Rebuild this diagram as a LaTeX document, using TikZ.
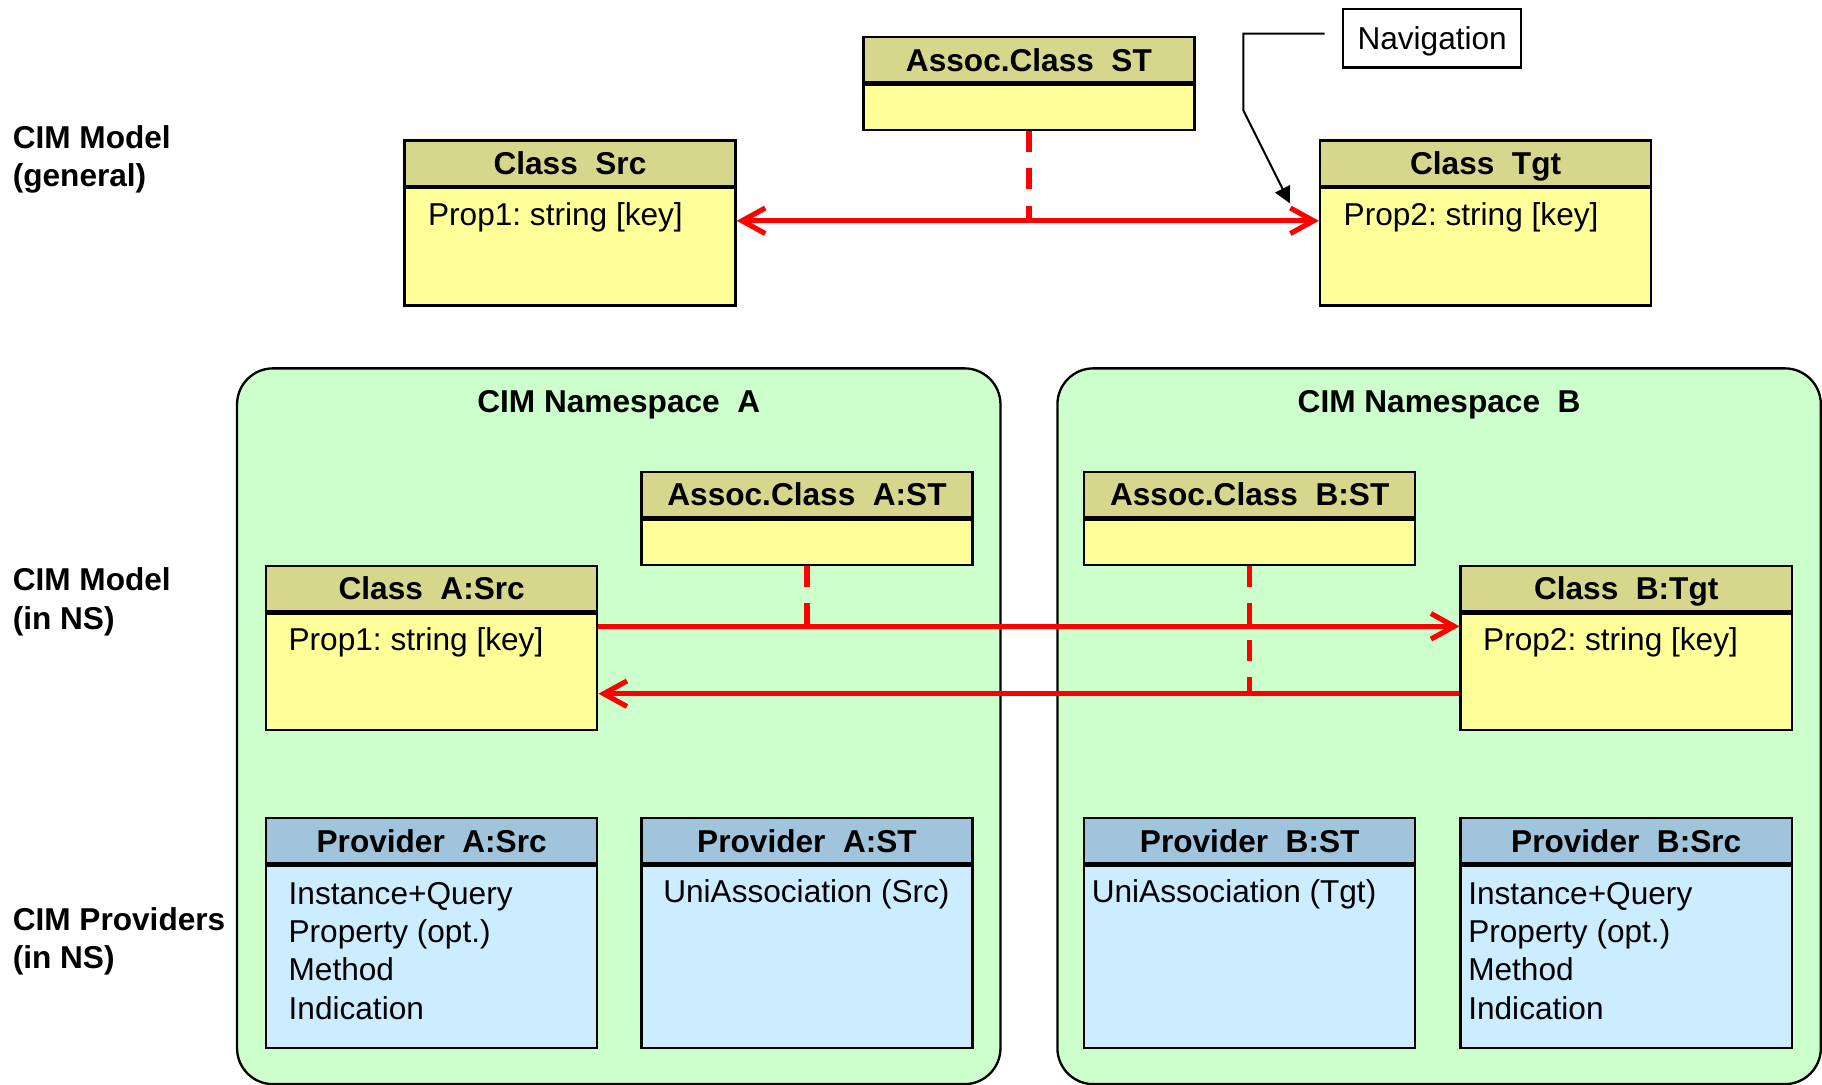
\documentclass[tikz,border=0pt]{standalone}
\usepackage{fontspec}
\setmainfont{Liberation Sans}
\usetikzlibrary{arrows.meta}
\frenchspacing

\definecolor{clsHdr}{RGB}{214,214,140}
\definecolor{clsBody}{RGB}{255,255,153}
\definecolor{prvHdr}{RGB}{160,196,220}
\definecolor{prvBody}{RGB}{204,236,255}
\definecolor{nsGreen}{RGB}{204,255,204}
\definecolor{assocRed}{RGB}{255,0,0}

\begin{document}
\begin{tikzpicture}[x=0.5pt,y=-0.5pt,
  txt/.style={font=\fontsize{13.6}{16.5}\selectfont, inner sep=0pt},
  lbl/.style={inner sep=0pt, font=\fontsize{13.6}{16.5}\selectfont\bfseries, align=left, anchor=base west},
  boxbase/.style={draw=black, line width=1pt, minimum width=142.5pt, inner sep=0pt},
  hdr/.style={boxbase, anchor=north west, minimum height=19.5pt, text height=9.75pt, text depth=0pt,
    font=\fontsize{13.6}{16.5}\selectfont\bfseries},
  clshdr/.style={hdr, fill=clsHdr},
  clsbody/.style={boxbase, fill=clsBody, anchor=north},
  prvhdr/.style={hdr, fill=prvHdr},
  prvbody/.style={boxbase, fill=prvBody, anchor=north, minimum height=78.5pt},
  entry/.style={txt, anchor=base west, align=left},
  ns/.style={draw=black, line width=1pt, fill=nsGreen, rounded corners=15.5pt, anchor=north west,
    minimum width=328.5pt, minimum height=308pt, inner sep=0pt},
  nstitle/.style={inner sep=0pt, anchor=base, font=\fontsize{13.6}{16.5}\selectfont\bfseries},
  assoc/.style={draw=assocRed, line width=2.2pt, >={Straight Barb[length=10pt,width=11pt]}},
  link/.style={draw=assocRed, line width=2.2pt, dash pattern=on 9pt off 7pt},
  navline/.style={draw=black, line width=0.85pt, -{Triangle[length=7pt,width=7pt]}}
]
\useasboundingbox (0,0) rectangle (1568,933);

% row labels (base anchor sits on the last line)
\node[lbl] (lblGen) at (10.6,160.5) {CIM Model\\(general)};
\node[lbl] (lblNS) at (10.6,541.5) {CIM Model\\(in NS)};
\node[lbl] (lblProv) at (10.6,833.5) {CIM Providers\\(in NS)};

% namespaces
\node[ns] (nsA) at (203,316) {};
\node[ns] (nsB) at (909,316) {};
\node[nstitle] (nsAT) at ([yshift=-19.5pt]nsA.north) {CIM Namespace\ \ A};
\node[nstitle] (nsBT) at ([yshift=-19.5pt]nsB.north) {CIM Namespace\ \ B};

% general model
\node[clshdr] (stH) at (742,31) {Assoc.Class\ \ ST};
\node[clsbody, minimum height=19.5pt] (stB) at (stH.south) {};
\node[clshdr] (srcH) at (347,120) {Class\ \ Src};
\node[clsbody, minimum height=50.5pt] (srcB) at (srcH.south) {};
\node[entry] (srcP) at ([xshift=10.5pt,yshift=-16.5pt]srcB.north west) {Prop1: string [key]};
\node[clshdr] (tgtH) at (1135,120) {Class\ \ Tgt};
\node[clsbody, minimum height=50.5pt] (tgtB) at (tgtH.south) {};
\node[entry] (tgtP) at ([xshift=10.5pt,yshift=-16.5pt]tgtB.north west) {Prop2: string [key]};

% navigation note
\node[draw=black, line width=1pt, txt, minimum width=76.5pt, minimum height=25pt,
  text height=9.75pt, text depth=0pt, anchor=north west] (nav) at (1155,7) {Navigation};

% model in namespaces
\node[clshdr] (astH) at (551,405) {Assoc.Class\ \ A:ST};
\node[clsbody, minimum height=19.5pt] (astB) at (astH.south) {};
\node[clshdr] (asrcH) at (228,486) {Class\ \ A:Src};
\node[clsbody, minimum height=50pt] (asrcB) at (asrcH.south) {};
\node[entry] (asrcP) at ([xshift=10pt,yshift=-16.5pt]asrcB.north west) {Prop1: string [key]};
\node[clshdr] (bstH) at (932,405) {Assoc.Class\ \ B:ST};
\node[clsbody, minimum height=19.5pt] (bstB) at (bstH.south) {};
\node[clshdr] (btgtH) at (1256,486) {Class\ \ B:Tgt};
\node[clsbody, minimum height=50pt] (btgtB) at (btgtH.south) {};
\node[entry] (btgtP) at ([xshift=10pt,yshift=-16.5pt]btgtB.north west) {Prop2: string [key]};

% providers (multi-line entries: base anchor on the last line)
\node[prvhdr] (pasrcH) at (228,703) {Provider\ \ A:Src};
\node[prvbody] (pasrcB) at (pasrcH.south) {};
\node[entry] (pasrcT) at ([xshift=10pt,yshift=-66.5pt]pasrcB.north west)
  {Instance+Query\\Property (opt.)\\Method\\Indication};
\node[prvhdr] (pastH) at (551,703) {Provider\ \ A:ST};
\node[prvbody] (pastB) at (pastH.south) {};
\node[entry] (pastT) at ([xshift=9.7pt,yshift=-16.5pt]pastB.north west) {UniAssociation (Src)};
\node[prvhdr] (pbstH) at (932,703) {Provider\ \ B:ST};
\node[prvbody] (pbstB) at (pbstH.south) {};
\node[entry] (pbstT) at ([xshift=3.6pt,yshift=-16.5pt]pbstB.north west) {UniAssociation (Tgt)};
\node[prvhdr] (pbsrcH) at (1256,703) {Provider\ \ B:Src};
\node[prvbody] (pbsrcB) at (pbsrcH.south) {};
\node[entry] (pbsrcT) at ([xshift=3.6pt,yshift=-66.5pt]pbsrcB.north west)
  {Instance+Query\\Property (opt.)\\Method\\Indication};

% association ends
\coordinate (topL) at ([yshift=-14.5pt]srcB.north east);
\coordinate (topR) at ([yshift=-14.5pt]tgtB.north west);
\coordinate (fwdL) at ([yshift=-6pt]asrcB.north east);
\coordinate (fwdR) at ([yshift=-6pt]btgtB.north west);
\coordinate (bwdL) at ([yshift=-35pt]asrcB.north east);
\coordinate (bwdR) at ([yshift=-35pt]btgtB.north west);

% associations
\draw[assoc, <->] (topL) -- (topR);
\draw[link] (stB.south) -- (stB.south |- topL);
\draw[assoc, ->] (fwdL) -- (fwdR);
\draw[link] (astB.south) -- (astB.south |- fwdL);
\draw[assoc, ->] (bwdR) -- (bwdL);
\draw[link] (bstB.south) -- (bstB.south |- bwdL);

% navigation pointer
\coordinate (navStart) at ([shift={(-7.5pt,2pt)}]nav.west);
\coordinate (navBend) at (1070,95);
\coordinate (navTip) at ([shift={(-12.5pt,-7pt)}]tgtB.north west);
\draw[navline] (navStart) -| (navBend) -- (navTip);
\end{tikzpicture}
\end{document}
